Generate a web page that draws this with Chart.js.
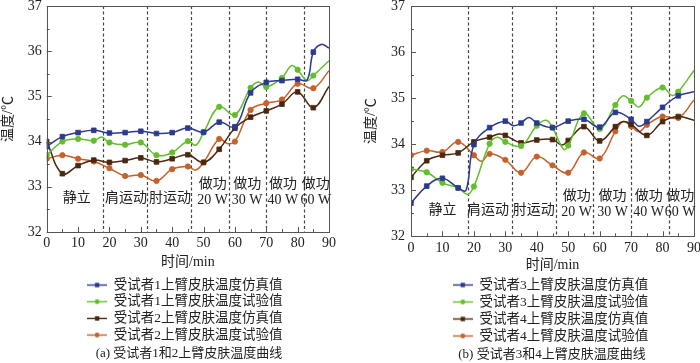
<!DOCTYPE html>
<html><head><meta charset="utf-8">
<script src="https://cdn.jsdelivr.net/npm/chart.js@4.4.0/dist/chart.umd.min.js"></script>
<style>
html,body{margin:0;padding:0;background:#fff;}
#wrap{position:relative;width:700px;height:363px;overflow:hidden;background:#fff;}
canvas{position:absolute;top:0;}
.cap{position:absolute;font-size:13px;font-family:"Liberation Serif","Noto Sans CJK SC",serif;line-height:13px;height:13px;color:#222;white-space:nowrap;transform:translateX(-50%);}
</style></head><body>
<div id="wrap">
<canvas id="cA" width="350" height="363" style="left:0"></canvas>
<canvas id="cB" width="350" height="363" style="left:350px"></canvas>
<div class="cap" style="left:189px;top:346px">(a) 受试者1和2上臂皮肤温度曲线</div>
<div class="cap" style="left:552px;top:347px">(b) 受试者3和4上臂皮肤温度曲线</div>
</div>
<script>
// ---- data ----
const TIMES = [0,5,10,15,20,25,30,35,40,45,50,55,60,65,70,75,80,85,90];
const X_TICKS = [0,10,20,30,40,50,60,70,80,90];
const Y_TICKS = [32,33,34,35,36,37];
const DIVIDERS = [18,32,46,58,70,82];
const PHASES = [['静立'],['肩运动'],['肘运动'],['做功','20 W'],['做功','30 W'],['做功','40 W'],['做功','60 W']];

const labelsA = ['受试者1上臂皮肤温度仿真值','受试者1上臂皮肤温度试验值','受试者2上臂皮肤温度仿真值','受试者2上臂皮肤温度试验值'];
const labelsB = ['受试者3上臂皮肤温度仿真值','受试者3上臂皮肤温度试验值','受试者4上臂皮肤温度仿真值','受试者4上臂皮肤温度试验值'];

// panel (a)
const s1Sim = [33.89,34.11,34.20,34.25,34.19,34.20,34.23,34.18,34.20,34.30,34.21,34.43,34.33,35.08,35.31,35.35,35.38,35.98,36.07];
const s1SimExtra = [[83,35.36],[87.5,36.15]];
const s1Exp = [33.70,34.00,34.06,34.02,33.98,33.93,33.98,33.70,33.76,34.01,34.20,34.77,34.59,35.19,35.21,35.41,35.59,35.46,35.79];
const s1ExpExtra = [[17.5,34.10],[47.5,33.92],[67.5,35.32],[78,35.68],[83,35.35]];
const s2Sim = [34.00,33.29,33.47,33.59,33.54,33.58,33.64,33.55,33.62,33.71,33.54,33.83,34.30,34.54,34.68,34.83,35.10,34.75,35.22];
const s2SimExtra = [];
const s2Exp = [33.62,33.70,33.62,33.56,33.41,33.24,33.26,33.13,33.39,33.45,33.54,34.06,34.00,34.70,34.85,34.93,35.28,35.18,35.57];
const s2ExpExtra = [[47.5,33.37],[57.5,33.96]];

// panel (b)
const s3Sim = [32.72,33.09,33.26,33.05,33.99,34.36,34.50,34.46,34.46,34.36,34.50,34.54,34.37,34.69,34.54,34.49,34.80,35.05,35.14];
const s3SimExtra = [[17.5,33.00],[32.5,34.40],[37.5,34.58],[72.5,34.39]];
const s3Exp = [33.46,33.39,33.16,33.05,33.08,34.01,34.05,33.96,34.40,34.36,33.97,34.67,34.33,34.85,34.94,35.01,35.23,35.14,35.60];
const s3ExpExtra = [[18,32.91],[27.5,34.15],[43,34.52],[48.5,33.89],[67.5,35.05],[72.5,34.81],[83,35.06]];
const s4Sim = [33.28,33.64,33.76,33.81,34.05,34.15,34.19,34.03,34.09,34.10,34.08,34.38,34.07,34.38,34.43,34.19,34.49,34.60,34.52];
const s4SimExtra = [[28,34.22],[48,33.98],[67.5,34.49]];
const s4Exp = [33.76,33.86,33.83,34.05,33.76,33.79,33.66,33.38,33.73,33.54,33.38,33.82,33.69,34.28,34.39,34.42,34.60,34.57,34.96];
const s4ExpExtra = [[22.5,33.63],[67.5,34.49],[72.5,34.27]];

// ---- styling ----
const COLORS = ['#2c3a8e','#62be2c','#4a2810','#c5612b'];
const STYLES = ['rect','circle','rect','circle'];
const FONT = "'Liberation Serif','Noto Sans CJK SC',serif";
const TXT = '#222';

function series(vals, extras){
  const pts = vals.map((v,i)=>({x:TIMES[i], y:v, m: i < vals.length-1}));
  extras.forEach(([x,y])=>pts.push({x:x,y:y,m:false}));
  pts.sort((a,b)=>a.x-b.x);
  return pts;
}

function icon(color, style){
  const c = document.createElement('canvas'); c.width = 20; c.height = 9;
  const g = c.getContext('2d');
  g.strokeStyle = color; g.lineWidth = 1.4;
  g.beginPath(); g.moveTo(0,4.5); g.lineTo(20,4.5); g.stroke();
  g.fillStyle = color;
  if (style === 'rect') g.fillRect(7.8,2.3,4.4,4.4);
  else { g.beginPath(); g.arc(10,4.5,2.4,0,Math.PI*2); g.fill(); }
  return c;
}
const ICONS = COLORS.map((c,i)=>icon(c, STYLES[i]));

const decor = {
  id: 'decor',
  beforeDatasetsDraw(chart, args, o){
    const {ctx, chartArea:a, scales:{x,y}} = chart;
    ctx.save();
    ctx.strokeStyle = '#444'; ctx.lineWidth = 1.2; ctx.setLineDash([3,2.5]);
    DIVIDERS.forEach(d=>{
      const px = Math.round(x.getPixelForValue(d))+0.5;
      ctx.beginPath(); ctx.moveTo(px,a.top); ctx.lineTo(px,a.bottom); ctx.stroke();
    });
    ctx.restore();
  },
  afterDatasetsDraw(chart, args, o){
    const {ctx, chartArea:a, scales:{x,y}} = chart;
    ctx.save();
    // frame
    ctx.strokeStyle = '#555'; ctx.lineWidth = 1;
    ctx.strokeRect(Math.round(a.left)+0.5, Math.round(a.top)+0.5, Math.round(a.right-a.left), Math.round(a.bottom-a.top));
    // inward ticks
    ctx.beginPath();
    for (let v = 32; v <= 37; v += 0.5){
      const py = Math.round(y.getPixelForValue(v))+0.5;
      const len = Number.isInteger(v) ? 5 : 3;
      ctx.moveTo(a.left, py); ctx.lineTo(a.left+len, py);
    }
    for (let t = 0; t <= 90; t += 5){
      const px = Math.round(x.getPixelForValue(t))+0.5;
      const len = t % 10 === 0 ? 5 : 3;
      ctx.moveTo(px, a.bottom); ctx.lineTo(px, a.bottom-len);
    }
    ctx.stroke();
    // phase labels
    ctx.fillStyle = TXT; ctx.font = '14px ' + FONT;
    ctx.textAlign = 'center'; ctx.textBaseline = 'middle';
    PHASES.forEach((lines,i)=>{
      const px = x.getPixelForValue(o.px[i]);
      if (lines.length === 1){
        ctx.fillText(lines[0], px, y.getPixelForValue(o.ySingle));
      } else {
        ctx.fillText(lines[0], px, y.getPixelForValue(o.yTop));
        ctx.fillText(lines[1], px, y.getPixelForValue(o.yBot));
      }
    });
    ctx.restore();
  },
  afterLayout(chart, args, o){
    if (chart.legend){ chart.legend.left += o.legendDx; chart.legend.right += o.legendDx; }
  }
};

function makeChart(id, labels, raw, L){
  const datasets = raw.map((pts,i)=>({
    label: labels[i], data: pts,
    borderColor: COLORS[i], backgroundColor: COLORS[i],
    borderWidth: 1.5, tension: 0.4,
    pointStyle: STYLES[i],
    pointRadius: c => (c.raw && c.raw.m) ? (STYLES[i]==='rect' ? 3.3 : 2.7) : 0,
    pointHoverRadius: 0, pointBorderWidth: 0.8, pointBorderColor: COLORS[i], pointBackgroundColor: COLORS[i]
  }));
  return new Chart(document.getElementById(id), {
    type: 'line',
    data: { datasets },
    plugins: [decor],
    options: {
      responsive: false, animation: false, events: [], devicePixelRatio: 1,
      layout: { padding: { left: L.padL, right: L.padR, top: L.padT, bottom: L.padB } },
      scales: {
        x: {
          type: 'linear', min: 0, max: 90,
          grid: { display: false, drawTicks: false }, border: { display: false },
          afterBuildTicks: s => { s.ticks = X_TICKS.map(v=>({value:v})); },
          ticks: { font: { size: 14, family: FONT }, color: TXT, padding: L.xTickPad, maxRotation: 0 },
          title: { display: true, text: '时间/min', font: { size: 14, family: FONT }, color: TXT, padding: { top: L.xTitlePad, bottom: L.xTitlePad } },
          afterFit: s => { s.height = L.xH; s.paddingLeft = 0; s.paddingRight = 0; }
        },
        y: {
          min: 32, max: 37,
          grid: { display: false, drawTicks: false }, border: { display: false },
          afterBuildTicks: s => { s.ticks = Y_TICKS.map(v=>({value:v})); },
          ticks: { font: { size: 14, family: FONT }, color: TXT, padding: L.yTickPad },
          title: { display: true, text: '温度/℃', font: { size: 14, family: FONT }, color: TXT, padding: { top: 0, bottom: 0 } },
          afterFit: s => { s.width = L.yW; s.paddingTop = 0; s.paddingBottom = 0; }
        }
      },
      plugins: {
        tooltip: { enabled: false },
        title: { display: false },
        legend: {
          display: true, position: 'bottom', fullSize: false,
          labels: {
            usePointStyle: true, pointStyleWidth: 20, padding: L.legPad,
            font: { size: 13.5, family: FONT }, color: TXT,
            generateLabels: ch => ch.data.datasets.map((ds,i)=>({
              text: ds.label, pointStyle: ICONS[i], fillStyle: COLORS[i], strokeStyle: COLORS[i],
              lineWidth: 0, hidden: false, datasetIndex: i, fontColor: TXT
            }))
          }
        },
        decor: L.decor
      }
    }
  });
}

makeChart('cA', labelsA, [
  series(s1Sim, s1SimExtra), series(s1Exp, s1ExpExtra), series(s2Sim, s2SimExtra), series(s2Exp, s2ExpExtra)
], {
  padL: 0, padR: 21, padT: 6, padB: 11.2, yW: 46.7, xH: 43.1, xTitlePad: 4.7, xTickPad: 3.4, yTickPad: 5, legPad: 3.17,
  decor: { px: [9.6,25.3,39.3,52.9,63.9,75.3,85.8], ySingle: 32.75, yTop: 33.06, yBot: 32.71, legendDx: -3 }
});
makeChart('cB', labelsB, [
  series(s3Sim, s3SimExtra), series(s3Exp, s3ExpExtra), series(s4Sim, s4SimExtra), series(s4Exp, s4ExpExtra)
], {
  padL: 13.3, padR: 6, padT: 6, padB: 10.25, yW: 47.7, xH: 38.45, xTitlePad: 1.35, xTickPad: 4.1, yTickPad: 6, legPad: 3.5,
  decor: { px: [10,24.5,39,52.7,64.1,75.6,85.6], ySingle: 32.57, yTop: 32.86, yBot: 32.52, legendDx: -2 }
});
</script>
</body></html>
